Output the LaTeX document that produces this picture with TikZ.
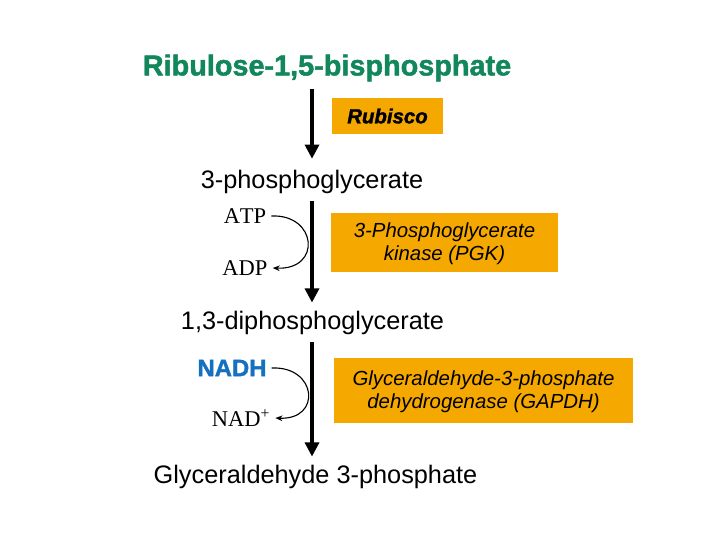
\documentclass[tikz,border=0pt]{standalone}
\usepackage{fontspec}
\setmainfont{Liberation Sans}
\newfontfamily\serifcof[Kerning=Off]{Liberation Serif}
\newfontfamily\heavyfont[FakeBold=1.6]{Liberation Sans Bold}
\newfontfamily\heavyitfont[FakeBold=1.6]{Liberation Sans Bold Italic}
\usetikzlibrary{arrows.meta}

\definecolor{rubpgreen}{RGB}{18,135,92}
\definecolor{nadhblue}{RGB}{22,112,192}
\definecolor{enzfill}{RGB}{245,168,0}

\tikzset{
  compound/.style={font=\fontsize{18}{20}\selectfont, inner sep=0pt},
  enzyme/.style={fill=enzfill, align=center, inner sep=0pt,
    font=\itshape\fontsize{14.5}{16.5}\selectfont},
  cofactor/.style={font=\serifcof\fontsize{16}{18}\selectfont, inner sep=3.5pt},
  flow/.style={line width=2.2pt, -{Triangle[length=10pt,width=10pt]}},
  swap/.style={line width=0.8pt, -{Stealth[length=5pt,width=4pt]}}
}

\begin{document}
\begin{tikzpicture}[x=0.025cm, y=-0.025cm]
\useasboundingbox (0,0) rectangle (709,546);

% compounds
\node[compound, font=\heavyfont\fontsize{20.5}{22}\selectfont, text=rubpgreen] (rubp) at (327,68) {Ribulose-1,5-bisphosphate};
\node[compound] (pga) at (312,182) {3-phosphoglycerate};
\node[compound] (bpg) at (312.5,323) {1,3-diphosphoglycerate};
\node[compound] (gap) at (315.5,477) {Glyceraldehyde 3-phosphate};

% enzymes
\node[enzyme, minimum width=78.7pt, minimum height=25.5pt, font=\heavyitfont\fontsize{14.5}{16}\selectfont] (rubisco) at (387.5,116) {Rubisco};
\node[enzyme, minimum width=160.9pt, minimum height=41.8pt] (pgk) at (444.5,242.5) {\rule{0pt}{12pt}3-Phosphoglycerate\\kinase (PGK)};
\node[enzyme, minimum width=213.3pt, minimum height=46.1pt] (gapdh) at (483.5,390.5) {\rule{0pt}{12pt}Glyceraldehyde-3-phosphate\\dehydrogenase (GAPDH)};

% cofactors
\node[cofactor] (atp) at (245,216) {ATP};
\node[cofactor] (adp) at (245,268) {ADP};
\node[cofactor, font=\heavyfont\fontsize{17}{19}\selectfont, text=nadhblue] (nadh) at (232,368) {NADH};
\node[cofactor] (nad) at (241,418) {NAD\textsuperscript{+}};

% main steps
\draw[flow, shorten <=5pt, shorten >=8pt] (rubp.south -| pga.north) -- (pga.north);
\draw[flow, shorten <=5pt, shorten >=6pt] (pga.south) -- (pga.south |- bpg.north);
\draw[flow, shorten <=5pt, shorten >=6pt] (bpg.south -| pga.south) -- (pga.south |- gap.north);

% coupled reactions
\draw[swap] (atp.east) .. controls (317,214) and (322,270) .. (adp.east);
\draw[swap] (nadh.east) .. controls (317,366) and (322,420) .. (nad.east);

\end{tikzpicture}
\end{document}
